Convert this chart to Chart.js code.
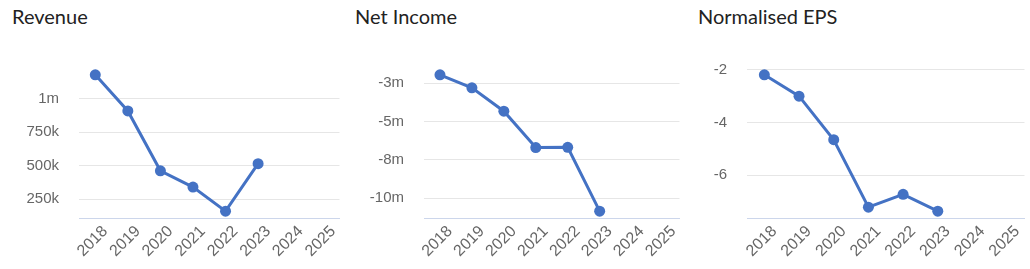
<!DOCTYPE html>
<html>
<head>
<meta charset="utf-8">
<script src="https://cdn.jsdelivr.net/npm/chart.js@4/dist/chart.umd.min.js"></script>
<style>
  body { margin: 0; background: #fff; width: 1030px; height: 269px; position: relative; overflow: hidden; }
  .title { position: absolute; top: 6px; font-family: Lato, sans-serif; font-size: 20px; line-height: 20px; color: #222; white-space: nowrap; }
  canvas { position: absolute; top: 0; }
</style>
</head>
<body>
<div class="title" style="left:12px">Revenue</div>
<div class="title" style="left:355px">Net Income</div>
<div class="title" style="left:698px">Normalised EPS</div>
<canvas id="revenue" width="345" height="269" style="left:0px"></canvas>
<canvas id="income" width="340" height="269" style="left:345px"></canvas>
<canvas id="eps" width="345" height="269" style="left:685px"></canvas>
<script>
// data
let years = ['2018', '2019', '2020', '2021', '2022', '2023', '2024', '2025'];
let revenue = [1180000, 910000, 462000, 340000, 160000, 515000, null, null];
let netIncome = [-1960000, -2810000, -4330000, -6700000, -6680000, -10840000, null, null];
let normalisedEps = [-2.19, -3.0, -4.65, -7.21, -6.72, -7.36, null, null];

// y tick values for each panel
let revenueTicks = [250000, 500000, 750000, 1000000];
let incomeTicks = [-10000000, -7500000, -5000000, -2500000];
let epsTicks = [-6, -4, -2];

const lineColor = '#4472c4';

Chart.defaults.font.family = "'Liberation Sans', Arial, sans-serif";
Chart.defaults.font.size = 15;
Chart.defaults.color = '#666666';

function fmtRevenue(v) {
  if (Math.abs(v) >= 1e6) return (v / 1e6) + 'm';
  return (v / 1e3) + 'k';
}
function fmtIncome(v) {
  return (v / 1e6).toFixed(0) + 'm';
}
function fmtEps(v) {
  return String(v);
}

// 5% room above and below the data, like the original
function range(values) {
  const vals = values.filter(v => v !== null);
  const lo = Math.min(...vals), hi = Math.max(...vals);
  const pad = (hi - lo) * 0.05;
  return { min: lo - pad, max: hi + pad };
}

function makeChart(id, values, tickValues, fmt, axisWidth, padRight) {
  const r = range(values);
  return new Chart(document.getElementById(id), {
    type: 'line',
    data: {
      labels: years,
      datasets: [{
        data: values,
        borderColor: lineColor,
        backgroundColor: lineColor,
        borderWidth: 3,
        pointRadius: 5.5,
        pointBorderWidth: 0,
        pointBackgroundColor: lineColor,
        tension: 0,
        clip: false,
      }],
    },
    options: {
      responsive: false,
      animation: false,
      layout: { padding: { top: 68, right: padRight, left: 0, bottom: 0 } },
      plugins: { legend: { display: false }, tooltip: { enabled: false } },
      scales: {
        x: {
          offset: true,
          grid: { display: false, drawTicks: false },
          border: { display: true, color: '#ccd6eb', width: 1 },
          ticks: { autoSkip: false, minRotation: 45, maxRotation: 45, padding: 4, labelOffset: 10, font: { size: 16 } },
          afterFit: s => { s.height = 51; },
        },
        y: {
          min: r.min,
          max: r.max,
          grid: { color: '#e6e6e6', drawTicks: false },
          border: { display: false },
          ticks: { padding: 20, callback: v => fmt(v) },
          afterBuildTicks: s => { s.ticks = tickValues.map(v => ({ value: v })); },
          afterFit: s => { s.width = axisWidth; },
        },
      },
    },
  });
}

makeChart('revenue', revenue, revenueTicks, fmtRevenue, 79, 5);
makeChart('income', netIncome, incomeTicks, fmtIncome, 79, 2);
makeChart('eps', normalisedEps, epsTicks, fmtEps, 62, 3);
</script>
</body>
</html>
